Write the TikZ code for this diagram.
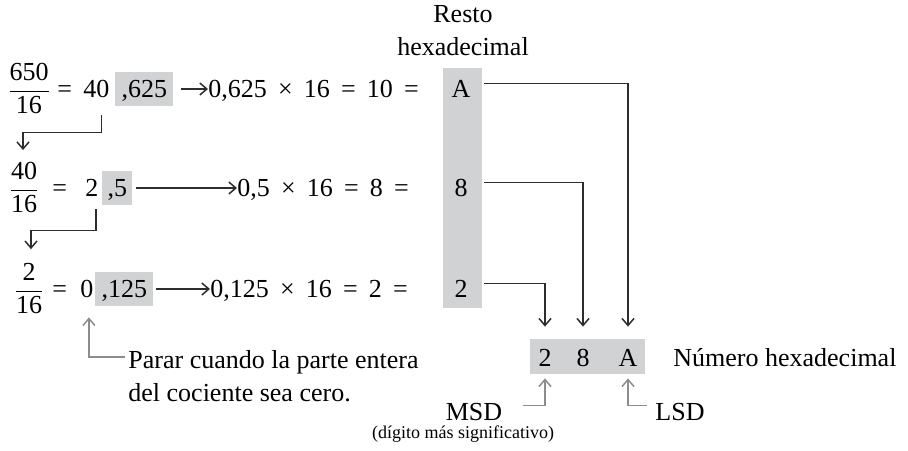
\documentclass[tikz,border=0pt]{standalone}
\usepackage{amsmath}
\usepackage{fontspec}
\setmainfont{Liberation Serif}
\usetikzlibrary{arrows.meta,positioning,calc}
\definecolor{hexgray}{RGB}{209,210,212}
\definecolor{hexdark}{RGB}{45,45,45}
\definecolor{hexnote}{RGB}{140,140,140}
\newcommand{\mgap}{\hspace{0.43em}}
\newcommand{\qfrac}[2]{$\dfrac{\text{#1}}{\text{#2}}$}
\tikzset{
  numtxt/.style   = {inner sep=0pt, text height=9pt, text depth=2.5pt,
                     font=\fontsize{13}{16}\selectfont},
  fractxt/.style  = {inner sep=0pt, font=\fontsize{13}{16}\selectfont},
  multitxt/.style = {inner sep=0pt, align=left, font=\fontsize{13}{16.5}\selectfont},
  smalltxt/.style = {inner sep=0pt, font=\fontsize{9}{11}\selectfont},
  grbox/.style    = {rectangle, fill=hexgray, inner sep=0pt, text height=12.5pt,
                     text depth=4.5pt, font=\fontsize{13}{16}\selectfont},
  colbox/.style   = {rectangle, fill=hexgray, inner sep=0pt},
  conn/.style     = {-{Straight Barb[length=3.5pt,width=6pt]}, line width=0.75pt, hexdark},
  noteconn/.style = {conn, hexnote},
}
\begin{document}
\begin{tikzpicture}[x=0.5pt,y=-0.5pt]
\useasboundingbox (0,0) rectangle (908,450);
% gray backgrounds
\node[colbox, minimum width=19.5pt, minimum height=120pt] (col) at (462.5,188) {};
\node[colbox, minimum width=57.5pt, minimum height=17.5pt] (res) at (587.5,356.5) {};
\node[multitxt, align=center, anchor=north] (head) at (463,5) {Resto\\hexadecimal};

% row 1
\node[fractxt, anchor=base] (f1) at (29,97) {\qfrac{650}{16}};
\node[numtxt, anchor=base west] (e1) at (57,97) {=};
\node[numtxt, anchor=base west] (q1) at (83,97) {40};
\node[grbox, minimum width=29pt, anchor=base west] (b1) at (115,97) {,625\hspace{4pt}};
\node[numtxt, anchor=base west] (m1) at (208,97) {0,625\mgap×\mgap16\mgap=\mgap10\mgap=};
\node[numtxt, anchor=base] (dA) at (461,97) {A};
\draw[conn] (b1.east) ++(7,0) -- (b1.east -| m1.west);

% row 2
\node[fractxt, anchor=base] (f2) at (24,196) {\qfrac{40}{16}};
\node[numtxt, anchor=base west] (e2) at (52,196) {=};
\node[numtxt, anchor=base west] (q2) at (85,196) {2};
\node[grbox, minimum width=15pt, anchor=base west] (b2) at (102,196) {,5\hspace{2pt}};
\node[numtxt, anchor=base west] (m2) at (237,196) {0,5\mgap×\mgap16\mgap=\mgap8\mgap=};
\node[numtxt, anchor=base] (d8) at (461,196) {8};
\draw[conn] (b2.east) ++(3,0) -- (b2.east -| m2.west);

% row 3
\node[fractxt, anchor=base] (f3) at (29,297) {\qfrac{2}{16}};
\node[numtxt, anchor=base west] (e3) at (52,297) {=};
\node[numtxt, anchor=base west] (q3) at (80,297) {0};
\node[grbox, minimum width=29pt, anchor=base west] (b3) at (95,297) {,125\hspace{4pt}};
\node[numtxt, anchor=base west] (m3) at (210,297) {0,125\mgap×\mgap16\mgap=\mgap2\mgap=};
\node[numtxt, anchor=base] (d2) at (461,297) {2};
\draw[conn] (b3.east) ++(2,0) -- (b3.east -| m3.west);

% quotient carried down
\draw[conn] ($(q1.south)+(5,13)$) -- ++(0,17) -| ($(f2.north)+(-1,-12)$);
\draw[conn] ($(q2.south)+(4,8)$) -- ++(0,21) -| ($(f3.north)+(2,-14)$);

% result digits
\node[numtxt, anchor=base] (r2) at (545,366) {2};
\node[numtxt, anchor=base] (r8) at (583,366) {8};
\node[numtxt, anchor=base] (rA) at (628,366) {A};
\node[numtxt, anchor=base west] (num) at (673,366) {Número hexadecimal};
\draw[conn] ($(col.east |- dA)+(2,-7)$) -| ($(rA |- res.north)+(0,-12)$);
\draw[conn] ($(col.east |- d8)+(2,-7)$) -| ($(r8 |- res.north)+(0,-12)$);
\draw[conn] ($(col.east |- d2)+(2,-7)$) -| ($(r2 |- res.north)+(0,-12)$);

% notes
\node[multitxt, anchor=north west] (stop) at (128,350) {Parar cuando la parte entera\\del cociente sea cero.};
\draw[noteconn] ($(stop.north west)+(-3,7)$) -| ($(q3.south)+(2,15)$);
\node[numtxt, anchor=base] (msd) at (474,420) {MSD};
\node[smalltxt, anchor=base] (msdnote) at (463,438) {(dígito más significativo)};
\node[numtxt, anchor=base west] (lsd) at (655,420) {LSD};
\draw[noteconn] ($(msd.east)+(20,-8)$) -| ($(r2 |- res.south)+(0,4)$);
\draw[noteconn] ($(lsd.west)+(-8,-8)$) -| ($(rA |- res.south)+(0,4)$);
\end{tikzpicture}
\end{document}
